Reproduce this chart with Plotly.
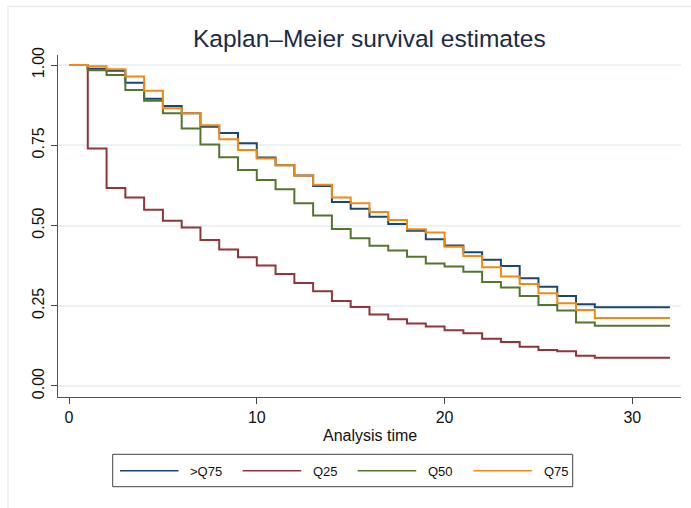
import plotly.graph_objects as go

# Kaplan-Meier survival estimates by group; steps occur at whole time units
step_times = list(range(0, 29))
end_time = 32

group_names = [">Q75", "Q25", "Q50", "Q75"]
group_colors = ["#1a476f", "#90353b", "#55752f", "#ee8a15"]

surv_gt_q75 = [1.000, 0.988, 0.982, 0.945, 0.895, 0.872, 0.850, 0.808, 0.788, 0.756,
               0.712, 0.688, 0.656, 0.623, 0.573, 0.552, 0.527, 0.505, 0.484, 0.457,
               0.438, 0.417, 0.393, 0.374, 0.336, 0.309, 0.280, 0.255, 0.245]
surv_q25 = [1.000, 0.740, 0.617, 0.587, 0.549, 0.515, 0.494, 0.455, 0.425, 0.401,
            0.375, 0.349, 0.321, 0.295, 0.265, 0.246, 0.223, 0.208, 0.195, 0.185,
            0.174, 0.164, 0.147, 0.137, 0.122, 0.112, 0.108, 0.094, 0.088]
surv_q50 = [1.000, 0.984, 0.969, 0.922, 0.889, 0.850, 0.802, 0.752, 0.713, 0.673,
            0.642, 0.613, 0.569, 0.531, 0.489, 0.460, 0.437, 0.422, 0.403, 0.382,
            0.372, 0.356, 0.324, 0.307, 0.280, 0.252, 0.235, 0.198, 0.188]
surv_q75 = [1.000, 0.996, 0.987, 0.964, 0.920, 0.865, 0.850, 0.812, 0.769, 0.735,
            0.709, 0.688, 0.656, 0.627, 0.587, 0.569, 0.542, 0.517, 0.488, 0.478,
            0.434, 0.405, 0.370, 0.341, 0.318, 0.289, 0.258, 0.237, 0.212]

x_ticks = [0, 10, 20, 30]
y_ticks = [0.0, 0.25, 0.5, 0.75, 1.0]
y_tick_text = ["0.00", "0.25", "0.50", "0.75", "1.00"]

W, H = 691, 508
L, R, T, B = 58, 10, 55, 111
FONT = "Liberation Sans, Arial, sans-serif"


def px(xp):
    return (xp - L) / (W - L - R)


def py(yp):
    return (H - B - yp) / (H - T - B)


fig = go.Figure()
all_series = [surv_gt_q75, surv_q25, surv_q50, surv_q75]
for name, color, surv in zip(group_names, group_colors, all_series):
    fig.add_trace(go.Scatter(
        x=step_times + [end_time],
        y=surv + [surv[-1]],
        mode="lines",
        line=dict(color=color, width=2, shape="hv"),
        name=name,
        showlegend=False,
    ))

shapes = []
annotations = []

# light outer frame of the graph region
shapes.append(dict(type="rect", xref="paper", yref="paper",
                   x0=px(8), x1=px(720), y0=py(540), y1=py(6.5),
                   line=dict(color="#e7eff1", width=1.5), fillcolor="rgba(0,0,0,0)",
                   layer="below"))

# legend box with line samples and labels
shapes.append(dict(type="rect", xref="paper", yref="paper",
                   x0=px(112.7), x1=px(572.7), y0=py(486.7), y1=py(454.3),
                   line=dict(color="#444444", width=1), fillcolor="white"))
sample_x = [120, 242.7, 357.7, 473.3]
label_x = [188, 310.7, 426, 541.7]
for name, color, sx, lx in zip(group_names, group_colors, sample_x, label_x):
    shapes.append(dict(type="line", xref="paper", yref="paper",
                       x0=px(sx), x1=px(sx + 58.5), y0=py(470.7), y1=py(470.7),
                       line=dict(color=color, width=1.6)))
    annotations.append(dict(text=name, xref="paper", yref="paper",
                            x=px(lx), y=py(471), xanchor="left", yanchor="middle",
                            showarrow=False, font=dict(family=FONT, size=13, color="#111111")))

# x axis title
annotations.append(dict(text="Analysis time", xref="paper", yref="paper",
                        x=px(369.5), y=py(436), xanchor="center", yanchor="middle",
                        showarrow=False, font=dict(family=FONT, size=16, color="#111111")))

# chart title
annotations.append(dict(text="Kaplan\u2013Meier survival estimates", xref="paper", yref="paper",
                        x=px(369.2), y=py(38.5), xanchor="center", yanchor="middle",
                        showarrow=False, font=dict(family=FONT, size=24.5, color="#1c2a48")))

fig.update_layout(
    width=W, height=H,
    margin=dict(l=L, r=R, t=T, b=B, pad=0),
    paper_bgcolor="white",
    plot_bgcolor="white",
    shapes=shapes,
    annotations=annotations,
    xaxis=dict(range=[-0.586, 32.59], tickvals=x_ticks, ticks="outside", ticklen=6,
               tickcolor="#444444", tickwidth=1, showgrid=False, zeroline=False,
               showline=True, linecolor="#555555", linewidth=1.3,
               tickfont=dict(family=FONT, size=16, color="#111111")),
    yaxis=dict(range=[-0.0343, 1.0312], tickvals=y_ticks, ticktext=y_tick_text,
               ticks="outside", ticklen=6, tickcolor="#444444", tickwidth=1,
               tickangle=-90, showgrid=True, gridcolor="#eaf2f3", gridwidth=1.5,
               zeroline=False, showline=True, linecolor="#555555", linewidth=1.3,
               tickfont=dict(family=FONT, size=16, color="#111111")),
)

fig.write_html("out.html")
